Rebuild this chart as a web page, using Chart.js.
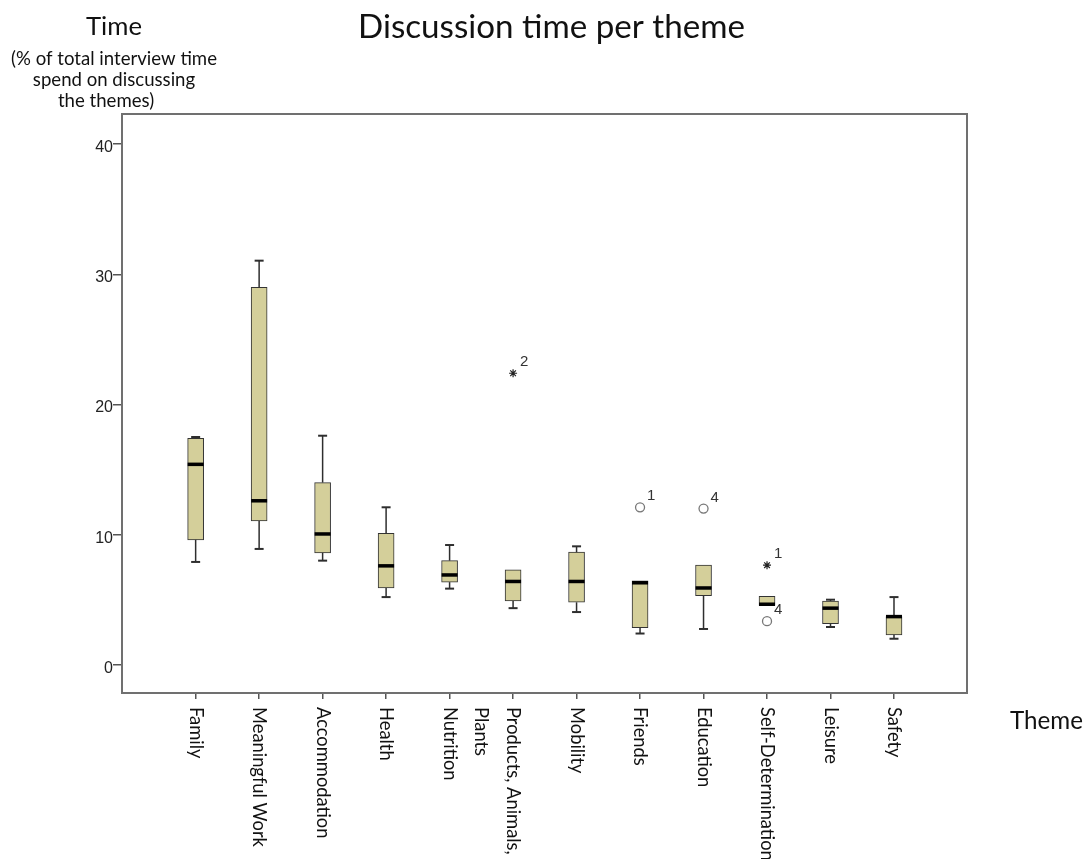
<!DOCTYPE html>
<html>
<head>
<meta charset="utf-8">
<script src="https://cdn.jsdelivr.net/npm/chart.js@4.4.1/dist/chart.umd.min.js"></script>
<style>
  html, body { margin: 0; padding: 0; background: #fff; }
  canvas { display: block; }
</style>
</head>
<body>
<canvas id="c" width="1088" height="859" style="width:1088px;height:859px"></canvas>
<script>
// ---------- data ----------
const themes = ['Family', 'Meaningful Work', 'Accommodation', 'Health', 'Nutrition',
  ['Products, Animals,', 'Plants'], 'Mobility', 'Friends', 'Education',
  'Self-Determination', 'Leisure', 'Safety'];
const whiskerLow  = [7.9, 8.9, 8.0, 5.2, 5.85, 4.35, 4.05, 2.4, 2.75, 4.55, 2.9, 2.0];
const q1          = [9.6, 11.05, 8.6, 5.9, 6.35, 4.9, 4.8, 2.85, 5.3, 4.55, 3.15, 2.3];
const median      = [15.4, 12.6, 10.05, 7.6, 6.9, 6.4, 6.4, 6.3, 5.9, 4.65, 4.35, 3.7];
const q3          = [17.4, 29.0, 14.0, 10.1, 8.0, 7.3, 8.65, 6.45, 7.65, 5.25, 4.9, 3.7];
const whiskerHigh = [17.5, 31.05, 17.6, 12.1, 9.2, 7.3, 9.1, 6.45, 7.65, 5.25, 5.0, 5.2];

// extreme values (stars) and outliers (circles): theme index, value, case label
const extremeIdx = [5, 9];
const extremeVals = [22.4, 7.65];
const extremeLabels = ['2', '1'];
const outlierIdx = [7, 8, 9];
const outlierVals = [12.1, 12.0, 3.35];
const outlierLabels = ['1', '4', '4'];

const yTicks = [0, 10, 20, 30, 40];

const chartTitle = 'Discussion time per theme';
const yTitle = ['Time', '(% of total interview time', 'spend on discussing', 'the themes)'];
const xTitle = 'Theme';

// ---------- drawing ----------
const FAMILY = 'Lato, "Open Sans", sans-serif';
const ARIAL = '"Liberation Sans", Arial, sans-serif';

function fitFont(ctx, text, width, family) {
  ctx.font = '100px ' + family;
  const s = 100 * width / ctx.measureText(text).width;
  ctx.font = s + 'px ' + family;
  return s;
}

const decor = {
  id: 'decor',
  beforeDraw(chart) {
    const ctx = chart.ctx;
    ctx.save();
    ctx.fillStyle = '#fff';
    ctx.fillRect(0, 0, chart.width, chart.height);
    ctx.restore();
  },
  afterDatasetsDraw(chart) {
    const { ctx, scales: { x, y } } = chart;
    ctx.save();
    themes.forEach((t, i) => {
      const px = x.getPixelForValue(i);
      [[q3[i], whiskerHigh[i]], [q1[i], whiskerLow[i]]].forEach(([a, b]) => {
        if (Math.abs(a - b) < 1e-9) return;
        const ya = y.getPixelForValue(a), yb = y.getPixelForValue(b);
        ctx.strokeStyle = '#2e2e2e';
        ctx.lineWidth = 1.5;
        ctx.beginPath(); ctx.moveTo(px, ya); ctx.lineTo(px, yb); ctx.stroke();
        ctx.lineWidth = 2;
        ctx.beginPath(); ctx.moveTo(px - 4.5, yb); ctx.lineTo(px + 4.5, yb); ctx.stroke();
      });
      const ym = y.getPixelForValue(median[i]);
      ctx.fillStyle = '#000';
      ctx.fillRect(px - 8, ym - 1.75, 16, 3.5);
    });
    // case labels for outliers
    ctx.fillStyle = '#333';
    ctx.font = '15px ' + ARIAL;
    ctx.textAlign = 'left';
    ctx.textBaseline = 'middle';
    extremeIdx.forEach((c, k) => {
      ctx.fillText(extremeLabels[k], x.getPixelForValue(c) + 7, y.getPixelForValue(extremeVals[k]) - 11);
    });
    outlierIdx.forEach((c, k) => {
      ctx.fillText(outlierLabels[k], x.getPixelForValue(c) + 7, y.getPixelForValue(outlierVals[k]) - 11);
    });
    ctx.restore();
  },
  afterDraw(chart) {
    const { ctx, chartArea: ca, scales: { x } } = chart;
    ctx.save();
    // frame
    ctx.strokeStyle = '#707070';
    ctx.lineWidth = 2;
    ctx.strokeRect(ca.left, ca.top, ca.right - ca.left, ca.bottom - ca.top);

    ctx.fillStyle = '#111';
    ctx.textAlign = 'center';
    ctx.textBaseline = 'alphabetic';
    // title
    fitFont(ctx, chartTitle, 387, FAMILY);
    ctx.fillText(chartTitle, 551.5, 38);
    // y title
    fitFont(ctx, yTitle[0], 56, FAMILY);
    ctx.fillText(yTitle[0], 114, 35);
    fitFont(ctx, yTitle[1], 206, FAMILY);
    ctx.fillText(yTitle[1], 114, 65);
    ctx.fillText(yTitle[2], 114, 86);
    ctx.fillText(yTitle[3], 106, 107);
    // x title
    fitFont(ctx, xTitle, 73, FAMILY);
    ctx.fillText(xTitle, 1046.5, 729);

    // x category labels, rotated clockwise
    ctx.fillStyle = '#111';
    fitFont(ctx, 'Meaningful Work', 140, FAMILY);
    ctx.textAlign = 'left';
    ctx.textBaseline = 'middle';
    themes.forEach((t, i) => {
      const lines = Array.isArray(t) ? t : [t];
      const px = x.getPixelForValue(i);
      ctx.save();
      ctx.translate(px, ca.bottom + 14);
      ctx.rotate(Math.PI / 2);
      lines.forEach((ln, k) => ctx.fillText(ln, 0, k * 32));
      ctx.restore();
    });
    ctx.restore();
  }
};

function make() {
  const ctx = document.getElementById('c').getContext('2d');
  new Chart(ctx, {
    type: 'bar',
    data: {
      datasets: [
        {
          type: 'bar',
          data: themes.map((t, i) => ({ x: i, y: [q1[i], q3[i]] })),
          backgroundColor: '#D4CF9A',
          borderColor: '#333',
          borderWidth: 1,
          borderSkipped: false,
          barThickness: 16
        },
        {
          type: 'scatter',
          data: extremeIdx.map((c, k) => ({ x: c, y: extremeVals[k] })),
          pointStyle: 'star',
          radius: 4,
          borderColor: '#222',
          backgroundColor: '#222',
          borderWidth: 1.2
        },
        {
          type: 'scatter',
          data: outlierIdx.map((c, k) => ({ x: c, y: outlierVals[k] })),
          pointStyle: 'circle',
          radius: 4.5,
          borderColor: '#777',
          backgroundColor: '#fff',
          borderWidth: 1.3
        }
      ]
    },
    options: {
      responsive: false,
      animation: false,
      devicePixelRatio: 1,
      layout: { padding: { top: 114, right: 121, left: 0, bottom: 0 } },
      plugins: { legend: { display: false }, tooltip: { enabled: false }, title: { display: false } },
      scales: {
        x: {
          type: 'linear',
          min: -1.16,
          max: 12.15,
          offset: false,
          afterBuildTicks: s => { s.ticks = themes.map((t, i) => ({ value: i })); },
          afterFit: s => { s.height = 166; },
          ticks: { display: false },
          grid: { display: true, offset: false, drawOnChartArea: false, drawTicks: true, tickLength: 6, color: '#555', lineWidth: 1.5 },
          border: { display: false }
        },
        y: {
          type: 'linear',
          min: -2.17,
          max: 42.32,
          afterBuildTicks: s => { s.ticks = yTicks.map(v => ({ value: v })); },
          afterFit: s => { s.width = 122; },
          ticks: { font: { family: ARIAL, size: 16 }, color: '#222', padding: 0, labelOffset: 3.5 },
          grid: { display: true, drawOnChartArea: false, drawTicks: true, tickLength: 9, color: '#555', lineWidth: 1.5 },
          border: { display: false }
        }
      }
    },
    plugins: [decor]
  });
}

Promise.all([
  document.fonts.load('20px Lato'),
  document.fonts.load('15px "Liberation Sans"')
]).then(make, make);
</script>
</body>
</html>
